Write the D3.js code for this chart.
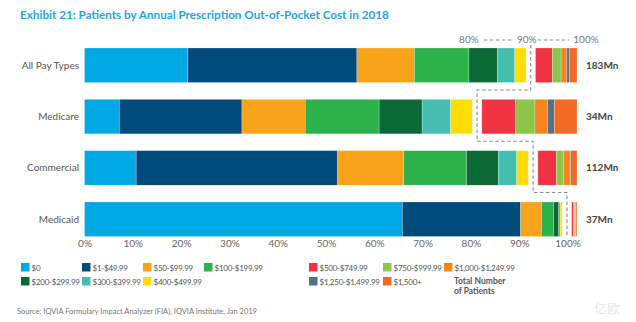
<!DOCTYPE html>
<html>
<head>
<meta charset="utf-8">
<script src="https://cdn.jsdelivr.net/npm/d3@7"></script>
<style>
  body { margin: 0; background: #fff; }
  svg { display: block; font-family: Lato, "Open Sans", sans-serif; }
</style>
</head>
<body>
<div id="chart"></div>
<script>
// data (share of patients, %)
var categories = ['All Pay Types', 'Medicare', 'Commercial', 'Medicaid'];
var totals = ['183Mn', '34Mn', '112Mn', '37Mn'];
var costBands = ['$0', '$1-$49.99', '$50-$99.99', '$100-$199.99', '$200-$299.99',
                 '$300-$399.99', '$400-$499.99', '$500-$749.99', '$750-$999.99',
                 '$1,000-$1,249.99', '$1,250-$1,499.99', '$1,500+'];
var bandColors = ['#00a9e5', '#004a7c', '#f9a31a', '#2db14b', '#0a6936',
                  '#46beaf', '#ffdd00', '#ef3342', '#8dc54b', '#f6851f',
                  '#557088', '#f26a23'];
var allPayValues     = [21.4, 35.0, 11.9, 11.3, 5.9, 3.6, 2.3, 3.5, 1.8, 1.2, 0.5, 1.6];
var medicareValues   = [7.2, 25.4, 13.1, 15.3, 8.9, 5.9, 4.5, 7.0, 4.0, 2.6, 1.4, 4.7];
var commercialValues = [10.7, 41.7, 13.7, 13.0, 6.6, 3.8, 2.4, 3.8, 1.5, 1.2, 0.3, 1.3];
var medicaidValues   = [65.8, 24.5, 4.3, 2.5, 1.1, 0.3, 0.4, 0.4, 0.2, 0.2, 0.1, 0.2];
var xTicks = [0, 10, 20, 30, 40, 50, 60, 70, 80, 90, 100];
var breakAfter = 7;   // bands $500+ are drawn after the break

var rows = [allPayValues, medicareValues, commercialValues, medicaidValues];

var width = 636, height = 322;
var gap = 9.5;

var svg = d3.select('#chart').append('svg')
    .attr('width', width)
    .attr('height', height);

var x = d3.scaleLinear().domain([0, 100]).range([84.5, 567.5]);
var y = d3.scaleBand().domain(categories).range([48, 236.5])
    .paddingInner(0.327).paddingOuter(0);

// title
svg.append('text')
    .attr('x', 20).attr('y', 19)
    .style('font-size', '11.7px').style('font-weight', 'bold')
    .style('fill', '#1ba6e4')
    .text('Exhibit 21: Patients by Annual Prescription Out-of-Pocket Cost in 2018');

// stacked bars with break
var segs = [];
var gapX = [];
rows.forEach(function(vals, r) {
  let cum = 0;
  vals.forEach(function(v, i) {
    let shift = i >= breakAfter ? gap : 0;
    segs.push({cat: categories[r], x0: x(cum) + shift, x1: x(cum + v) + shift, color: bandColors[i]});
    cum += v;
    if (i == breakAfter - 1) gapX.push(x(cum) + gap / 2);
  });
});

svg.append('g').selectAll('rect')
  .data(segs)
  .enter().append('rect')
    .attr('x', d => d.x0)
    .attr('y', d => y(d.cat))
    .attr('width', d => Math.max(0, d.x1 - d.x0))
    .attr('height', y.bandwidth())
    .attr('fill', d => d.color)
    .attr('stroke', '#ffffff')
    .attr('stroke-opacity', 0.5)
    .attr('stroke-width', 0.5);

// category labels
svg.append('g').selectAll('text')
  .data(categories)
  .enter().append('text')
    .attr('x', 79)
    .attr('y', d => y(d) + y.bandwidth() / 2 + 3.5)
    .attr('text-anchor', 'end')
    .style('font-size', '10px')
    .style('fill', '#555')
    .text(d => d);

// totals
svg.append('g').selectAll('text')
  .data(totals)
  .enter().append('text')
    .attr('x', 586)
    .attr('y', (d, i) => y(categories[i]) + y.bandwidth() / 2 + 3.5)
    .style('font-size', '10px').style('font-weight', 'bold')
    .style('fill', '#444')
    .text(d => d);

// x axis (labels only)
var xaxis = d3.axisBottom(x).tickValues(xTicks).tickSize(0).tickPadding(0)
    .tickFormat(d => d + '%');
var gx = svg.append('g')
    .attr('transform', 'translate(0,' + 239.5 + ')')
    .call(xaxis);
gx.select('.domain').remove();
gx.selectAll('text')
    .attr('dy', '0.75em')
    .style('font-size', '10px')
    .style('font-family', 'Lato, "Open Sans", sans-serif')
    .style('fill', '#666');

// dashed break line
var mids = [];
for (let i = 0; i < categories.length - 1; ++i)
  mids.push((y(categories[i]) + y.bandwidth() + y(categories[i + 1])) / 2 - 1);
var pts = [[gapX[0], 45]];
for (let i = 0; i < mids.length; ++i) {
  pts.push([gapX[i], mids[i]]);
  pts.push([gapX[i + 1], mids[i]]);
}
pts.push([gapX[gapX.length - 1], 237]);
var dash = {stroke: '#8a8a8a', 'stroke-width': 1.1, 'stroke-dasharray': '3.5,2.5', fill: 'none'};
var bp = svg.append('path').attr('d', d3.line()(pts));
for (let k in dash) bp.attr(k, dash[k]);

// top scale annotation 80% --- 90% --- 100%
var topY = 43;
var topLabels = [
  {t: '80%', x: x(80) - 2},
  {t: '90%', x: gapX[0] - 4},
  {t: '100%', x: x(100) + gap + 9}
];
svg.append('g').selectAll('text')
  .data(topLabels)
  .enter().append('text')
    .attr('x', d => d.x).attr('y', topY)
    .attr('text-anchor', 'middle')
    .style('font-size', '10px').style('fill', '#777')
    .text(d => d.t);
[[x(80) + 13, gapX[0] - 18], [gapX[0] + 7, x(100) + gap - 8]].forEach(function(s) {
  let l = svg.append('line')
    .attr('x1', s[0]).attr('x2', s[1]).attr('y1', topY - 3).attr('y2', topY - 3);
  for (let k in dash) l.attr(k, dash[k]);
});

// legend
var legendCols = [21, 82, 143, 204, 309, 383, 444];
var legendPos = [[0, 0], [1, 0], [2, 0], [3, 0], [0, 1], [1, 1], [2, 1],
                 [4, 0], [5, 0], [6, 0], [4, 1], [5, 1]];
var lg = svg.append('g').selectAll('g')
  .data(costBands)
  .enter().append('g')
    .attr('transform', (d, i) => 'translate(' + legendCols[legendPos[i][0]] + ',' + (263 + legendPos[i][1] * 14) + ')');
lg.append('rect')
    .attr('width', 8.5).attr('height', 8.5)
    .attr('fill', (d, i) => bandColors[i]);
lg.append('text')
    .attr('x', 10.5).attr('y', 7.5)
    .style('font-size', '8px').style('fill', '#555')
    .style('letter-spacing', '-0.25px')
    .text(d => d);

svg.append('text')
    .attr('x', 454).attr('y', 284)
    .style('font-size', '8.5px').style('font-weight', 'bold').style('fill', '#555')
  .selectAll('tspan')
  .data(['Total Number', 'of Patients'])
  .enter().append('tspan')
    .attr('x', 454)
    .attr('dy', (d, i) => i == 0 ? 0 : 9.5)
    .text(d => d);

// source
svg.append('text')
    .attr('x', 17).attr('y', 314)
    .style('font-size', '7.5px').style('fill', '#777')
    .text('Source: IQVIA Formulary Impact Analyzer (FIA), IQVIA Institute, Jan 2019');

// faint watermark
svg.append('text')
    .attr('x', 594).attr('y', 313)
    .style('font-size', '13px')
    .style('font-family', '"Noto Sans CJK SC", sans-serif')
    .style('fill', '#e8e8e8')
    .text('亿欧');
</script>
</body>
</html>
